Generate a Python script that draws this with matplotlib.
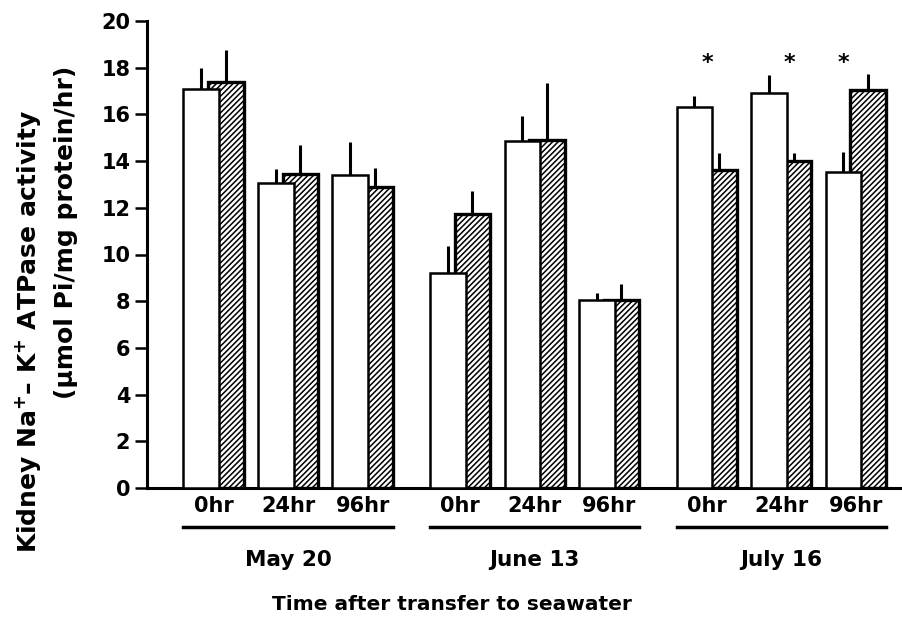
import matplotlib
matplotlib.use('Agg')
import matplotlib.pyplot as plt
import numpy as np

# data
months = ['May 20', 'June 13', 'July 16']
times = ['0hr', '24hr', '96hr']
open_vals = [17.1, 13.05, 13.4, 9.2, 14.85, 8.05, 16.3, 16.9, 13.55]
open_err = [0.9, 0.6, 1.4, 1.15, 1.1, 0.3, 0.5, 0.8, 0.85]
hatch_vals = [17.4, 13.45, 12.9, 11.75, 14.9, 8.05, 13.6, 14.0, 17.05]
hatch_err = [1.35, 1.25, 0.8, 0.95, 2.45, 0.7, 0.75, 0.35, 0.7]
starred = [6, 7, 8]
star_dx = [0.18, 0.27, 0.0]

plt.rcParams['font.family'] = ['DejaVu Sans']
plt.rcParams['font.weight'] = 'bold'
plt.rcParams['mathtext.fontset'] = 'custom'
plt.rcParams['mathtext.rm'] = 'DejaVu Sans:bold'
plt.rcParams['mathtext.bf'] = 'DejaVu Sans:bold'
plt.rcParams['hatch.linewidth'] = 1.1

fig = plt.figure(figsize=(9.03, 6.28), dpi=100)
ax = fig.add_axes([147 / 903, 1 - 488 / 628, 1 - 147 / 903, 467 / 628])

group_gap = 3.31
x = np.array([g * group_gap + i for g in range(3) for i in range(3)])
w = 0.48
off = 0.33

# hatched bars sit behind the open ones
ax.bar(x + off, hatch_vals, w, facecolor='white', edgecolor='black',
       hatch='//////', linewidth=2.4, zorder=2)
ax.bar(x, open_vals, w, facecolor='white', edgecolor='black',
       linewidth=1.8, zorder=3)
ax.vlines(x + off, hatch_vals, np.add(hatch_vals, hatch_err), color='black',
          linewidth=2.2, zorder=1)
ax.vlines(x, open_vals, np.add(open_vals, open_err), color='black',
          linewidth=2.2, zorder=4)

for k, dx in zip(starred, star_dx):
    ax.text(x[k] + dx, 18.2, '*', ha='center', va='center', fontsize=16)

ax.set_xlim(-0.73, 9.42)
ax.set_ylim(0, 20)
ax.set_yticks(range(0, 21, 2))
ax.tick_params(axis='y', length=9, width=1.8, pad=3, labelsize=15)
ax.set_xticks(x + off / 2)
ax.set_xticklabels(times * 3)
ax.tick_params(axis='x', length=0, pad=6, labelsize=15)

for s in ['top', 'right']:
    ax.spines[s].set_visible(False)
for s in ['left', 'bottom']:
    ax.spines[s].set_linewidth(2.2)

# underline + date under each group
trans = ax.get_xaxis_transform()
for g, m in enumerate(months):
    x0 = x[g * 3] - w / 2
    x1 = x[g * 3 + 2] + off + w / 2
    ax.plot([x0, x1], [-0.083, -0.083], color='black', linewidth=2.5,
            transform=trans, clip_on=False)
    ax.text((x0 + x1) / 2, -0.154, m, transform=trans, ha='center',
            va='center', fontsize=15.5)

fig.text(0.5, 1 - 604 / 628, 'Time after transfer to seawater', ha='center',
         va='center', fontsize=14.5)
fig.text(28 / 903, 1 - 332 / 628,
         r'Kidney Na$^{+}$– K$^{+}$ ATPase activity', rotation=90,
         ha='center', va='center', fontsize=18)
fig.text(66 / 903, 1 - 232 / 628, '(µmol Pi/mg protein/hr)', rotation=90,
         ha='center', va='center', fontsize=18)

fig.savefig('out.png', dpi=100)
